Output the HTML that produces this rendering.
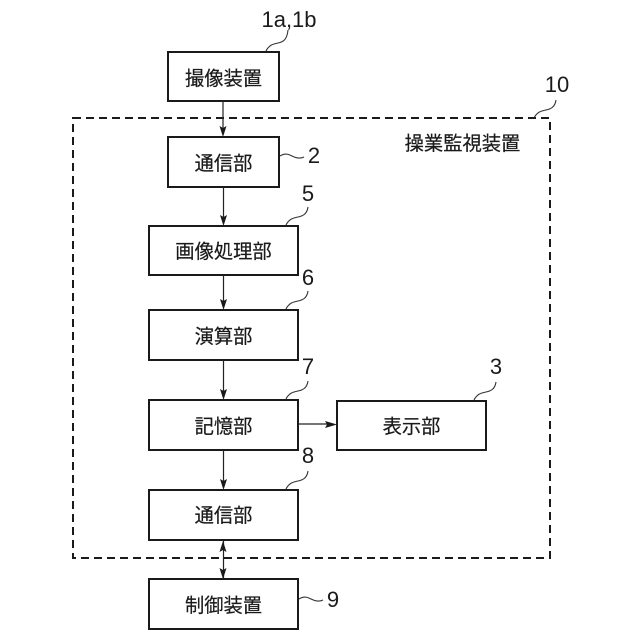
<!DOCTYPE html>
<html><head><meta charset="utf-8">
<style>
html,body{margin:0;padding:0;background:#fff;width:640px;height:640px;overflow:hidden}
svg{display:block}
.j{font-family:"Liberation Sans","Noto Sans CJK JP",sans-serif;font-size:19.3px;fill:#1a1a1a;stroke:#1a1a1a;stroke-width:.2;text-anchor:middle}
.n{font-family:"Liberation Sans",sans-serif;font-size:22px;fill:#1a1a1a;text-anchor:middle}
.b{fill:#fff;stroke:#1a1a1a;stroke-width:2}
.l{fill:none;stroke:#222;stroke-width:1.2}
.c{fill:none;stroke:#333;stroke-width:1.1}
</style></head>
<body>
<svg width="640" height="640" viewBox="0 0 640 640" xmlns="http://www.w3.org/2000/svg">
<rect x="73" y="118" width="477" height="440" fill="none" stroke="#1a1a1a" stroke-width="2" stroke-dasharray="8 5"/>
<rect class="b" x="168" y="52" width="111" height="49"/>
<rect class="b" x="168" y="137" width="111" height="50"/>
<rect class="b" x="149" y="226" width="149" height="49"/>
<rect class="b" x="149" y="310" width="149" height="50"/>
<rect class="b" x="149" y="400" width="149" height="50"/>
<rect class="b" x="337" y="401" width="149" height="49"/>
<rect class="b" x="149" y="490" width="149" height="50"/>
<rect class="b" x="149" y="579" width="149" height="50"/>
<path class="l" d="M223 101V130M223.500 187V219M223.500 275V303M223.500 360V393M223.500 450V483M223.500 541V578M298 424H331"/>
<path d="M223 137l-3.500-11 3.500 2 3.500-2zM223.500 226l-3.500-11 3.500 2 3.500-2zM223.500 310l-3.500-11 3.500 2 3.500-2zM223.500 400l-3.500-11 3.500 2 3.500-2zM223.500 490l-3.500-11 3.500 2 3.500-2zM223 541l-3.500 11 3.500-2 3.500 2zM223 579l-3.500-11 3.500 2 3.500-2zM337 424.500l-12-3.500 2 3.500-2 3.500z" fill="#1a1a1a"/>
<path class="c" d="M266 51c3-6 7-7 12-8s9-3 10-13"/>
<path class="c" d="M280 156c5-3 8-2 12 0s8 3 12 1"/>
<path class="c" d="M286 225c3-6 7-7 12-8s9-3 10-10"/>
<path class="c" d="M286 309c3-6 7-7 12-8s9-3 10-10"/>
<path class="c" d="M286 399c3-6 7-7 12-8s9-3 10-10"/>
<path class="c" d="M286 489c3-6 7-7 12-8s9-3 10-10"/>
<path class="c" d="M474 400c3-6 7-7 12-8s9-3 10-10"/>
<path class="c" d="M534 118c3-6 7-7 12-8s9-3 10-10"/>
<path class="c" d="M299 599c5-3 8-2 12 0s8 3 12 1"/>
<text class="j" x="223.500" y="85">撮像装置</text>
<text class="j" x="223.500" y="170">通信部</text>
<text class="j" x="223.500" y="258">画像処理部</text>
<text class="j" x="223.500" y="343">演算部</text>
<text class="j" x="223.500" y="433">記憶部</text>
<text class="j" x="411.500" y="433">表示部</text>
<text class="j" x="223.500" y="522">通信部</text>
<text class="j" x="223.500" y="612">制御装置</text>
<text class="j" x="462.500" y="150">操業監視装置</text>
<text class="n" x="289" y="27">1a,1b</text>
<text class="n" x="314" y="163">2</text>
<text class="n" x="308" y="201">5</text>
<text class="n" x="308" y="285">6</text>
<text class="n" x="308" y="374">7</text>
<text class="n" x="308" y="463">8</text>
<text class="n" x="496" y="374">3</text>
<text class="n" x="557" y="92">10</text>
<text class="n" x="333" y="607">9</text>
</svg>
</body></html>
